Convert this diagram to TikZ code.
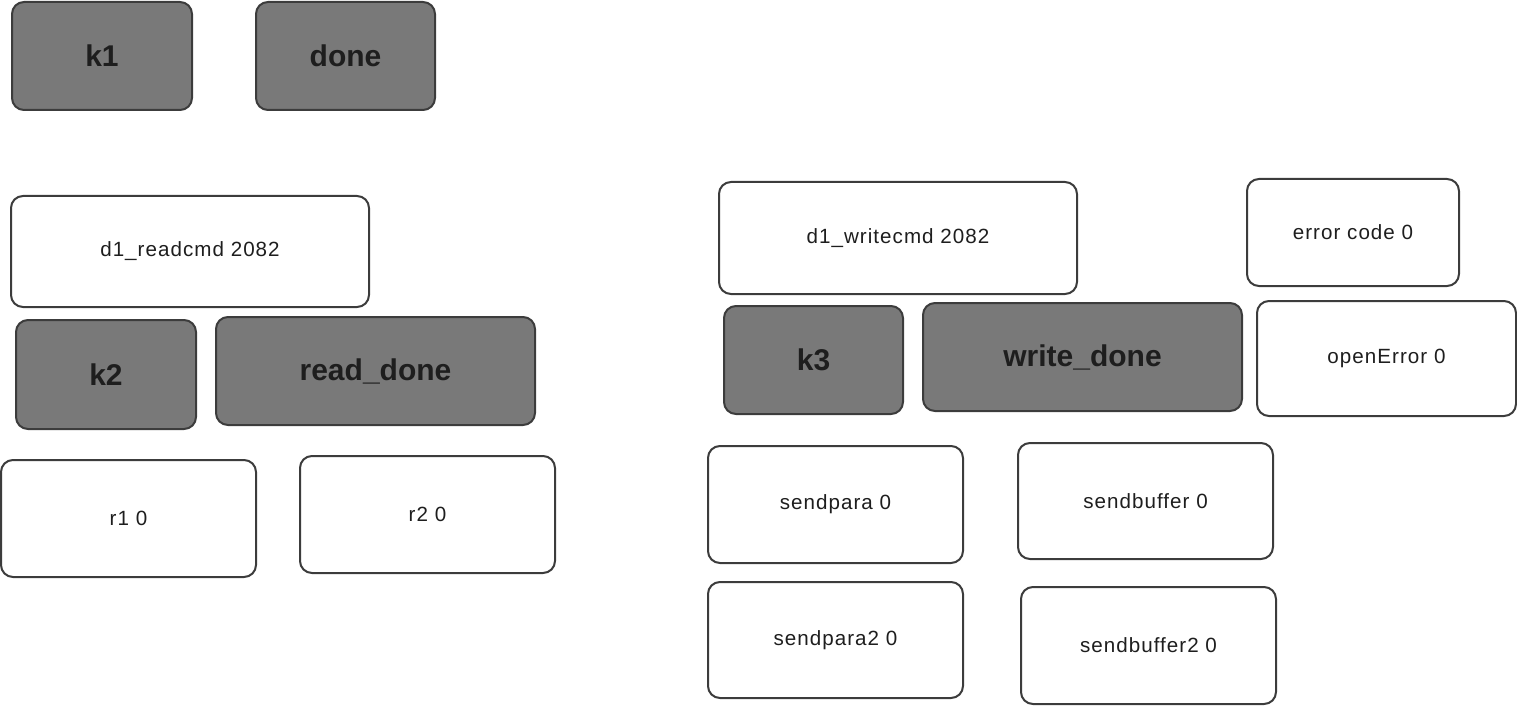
\documentclass[tikz,border=0pt]{standalone}
\usepackage{fontspec}
\setmainfont{Liberation Sans}
\newfontfamily\spacedfont[LetterSpace=5]{Liberation Sans}
\usepackage{tikz}
\usetikzlibrary{positioning}
\definecolor{keygray}{HTML}{797979}
\definecolor{edgegray}{HTML}{3C3C3C}
\definecolor{inkgray}{HTML}{1E1E1E}
\tikzset{
  keybox/.style 2 args = {rectangle, rounded corners=6pt, draw=edgegray, line width=1pt,
                          fill=keygray, text=inkgray, font=\bfseries\fontsize{15}{18}\selectfont,
                          inner sep=0pt, minimum width=#1*0.5pt, minimum height=#2*0.5pt},
  varbox/.style 2 args = {rectangle, rounded corners=6pt, draw=edgegray, line width=1pt,
                          fill=white, text=inkgray, font=\spacedfont\fontsize{10.3}{12}\selectfont,
                          inner sep=0pt, minimum width=#1*0.5pt, minimum height=#2*0.5pt}
}

\begin{document}
\begin{tikzpicture}[x=0.5pt,y=-0.5pt]
        \useasboundingbox (0,0) rectangle (1517,706);

        % read side
        \node[keybox={180}{108}] (k1) at (102,56) {k1};
        \node[keybox={179}{108}] (done) at (345.5,56) {done};
        \node[varbox={358}{111}] (readcmd) at (190,251.5) {d1\_readcmd 2082};
        \node[keybox={180}{109}] (k2) at (106,374.5) {k2};
        \node[keybox={319}{108}] (readdone) at (375.5,371) {read\_done};
        \node[varbox={255}{117}] (r1) at (128.5,518.5) {r1 0};
        \node[varbox={255}{117}] (r2) at (427.5,514.5) {r2 0};

        % write side
        \node[varbox={358}{112}] (writecmd) at (898,238) {d1\_writecmd 2082};
        \node[varbox={212}{107}] (errcode) at (1353,232.5) {error code 0};
        \node[keybox={179}{108}] (k3) at (813.5,360) {k3};
        \node[keybox={319}{108}] (writedone) at (1082.5,357) {write\_done};
        \node[varbox={259}{115}] (openerr) at (1386.5,358.5) {openError 0};
        \node[varbox={255}{117}] (sendpara) at (835.5,504.5) {sendpara 0};
        \node[varbox={255}{116}] (sendbuf) at (1145.5,501) {sendbuffer 0};
        \node[varbox={255}{116}] (sendparatwo) at (835.5,640) {sendpara2 0};
        \node[varbox={255}{117}] (sendbuftwo) at (1148.5,645.5) {sendbuffer2 0};
    \end{tikzpicture}
\end{document}
